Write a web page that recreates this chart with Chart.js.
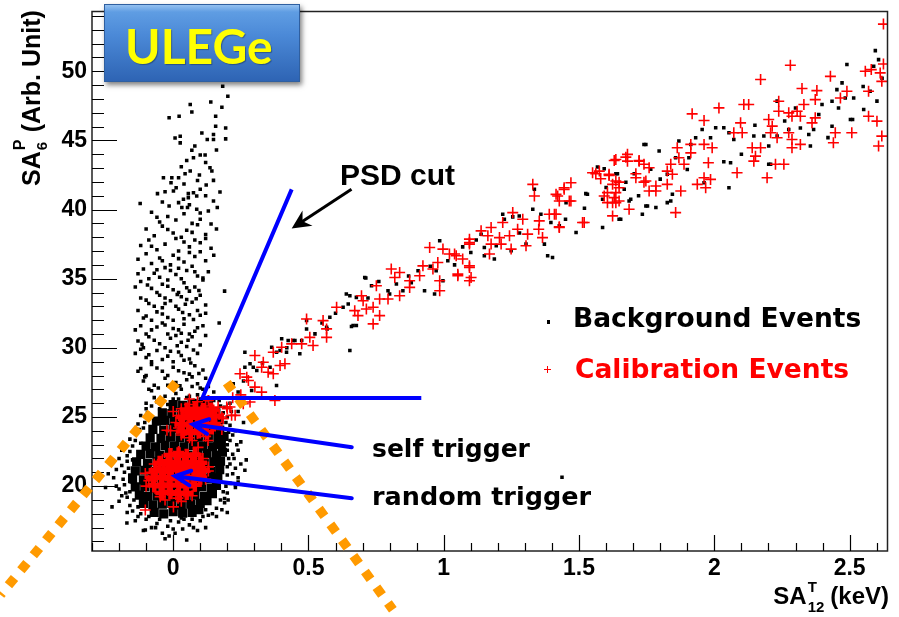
<!DOCTYPE html>
<html>
<head>
<meta charset="utf-8">
<title>ULEGe PSD scatter</title>
<script src="https://cdn.jsdelivr.net/npm/chart.js@4.4.1/dist/chart.umd.min.js"></script>
<style>
  body { margin: 0; background: #fff; }
  #wrap { position: relative; width: 899px; height: 617px; overflow: hidden; }
  #chart { position: absolute; left: 0; top: 0; }
  .txt { position: absolute; white-space: nowrap; line-height: 1; font-weight: bold; color: #000; }
  .arial { font-family: 'Liberation Sans', Arial, sans-serif; }
  .dejavu { font-family: 'DejaVu Sans', Verdana, sans-serif; }
  .ss { position: relative; display: inline-block; height: 0; }
  .ss span { position: absolute; left: 1px; line-height: 1; }
  #ulege {
    position: absolute; left: 104px; top: 4px; width: 196px; height: 78px; box-sizing: border-box;
    background: linear-gradient(to bottom, #93c0f0 0px, #5f9de3 7px, #4b89d7 40%, #2e64b4 100%);
    border: 1px solid #2f5fa0;
    box-shadow: 2px 3px 5px rgba(0,0,0,0.5);
  }
  #ulege span {
    position: absolute; left: 20px; top: 12px; line-height: 1;
    font: bold 48px 'Comic Sans MS', Lato, sans-serif; color: #ffff00;
    text-shadow: 1px 1px 1px rgba(0,0,0,0.3);
  }
  #yTitle { left: 18.8px; font-size: 25px; transform-origin: 0 0; transform: rotate(-90deg); }
  #xTitle { right: 10px; top: 584px; font-size: 24px; }
  .mk-sq { position: absolute; left: 546.5px; top: 320px; width: 3.5px; height: 3.5px; background: #000; }
  .mk-cross {
    position: absolute; left: 543.8px; top: 365.8px; width: 7px; height: 7px;
    background: linear-gradient(#f00, #f00) center / 7px 1.3px no-repeat,
                linear-gradient(#f00, #f00) center / 1.3px 7px no-repeat;
  }
</style>
</head>
<body>
<div id="wrap">
  <canvas id="chart" width="899" height="617"></canvas>
  <div id="ulege"><span>ULEGe</span></div>
  <div class="txt arial" style="left:340px; top:159.6px; font-size:30px;">PSD cut</div>
  <div class="txt dejavu" style="left:372px; top:435.8px; font-size:25px;">self trigger</div>
  <div class="txt dejavu" style="left:372px; top:484.4px; font-size:25.5px;">random trigger</div>
  <div class="mk-sq"></div>
  <div class="txt dejavu" style="left:573px; top:304.6px; font-size:26.5px;">Background Events</div>
  <div class="mk-cross"></div>
  <div class="txt dejavu" style="left:575px; top:355.6px; font-size:26.5px; color:#ff0000;">Calibration Events</div>
  <div class="txt arial" id="yTitle">SA<span class="ss" style="width:12px"><span style="top:-28.5px; font-size:16px;">P</span><span style="top:-5.7px; font-size:15px;">6</span></span> (Arb. Unit)</div>
  <div class="txt arial" id="xTitle">SA<span class="ss" style="width:17px"><span style="top:-25px; font-size:15px;">T</span><span style="top:-4.7px; font-size:15px;">12</span></span> (keV)</div>
</div>
<script>
// Axis ranges and tick labels
const xRange = [-0.3, 2.64];
const yRange = [15.31, 54.32];
const xTickLabels = ['0', '0.5', '1', '1.5', '2', '2.5'];
const yTickLabels = ['20', '25', '30', '35', '40', '45', '50'];

// Background events: saturated core of the trigger clusters
const bgCore = [
  [-0.07,18.1],[-0.035,18.0],[0.0,18.15],[0.035,18.05],[0.07,18.1],[0.095,18.3],
  [-0.11,18.75],[-0.075,18.65],[-0.04,18.7],[-0.005,18.75],[0.03,18.65],[0.065,18.7],[0.1,18.75],[0.125,18.95],
  [-0.125,19.35],[-0.095,19.25],[-0.06,19.3],[-0.025,19.35],[0.01,19.25],[0.045,19.3],[0.08,19.35],[0.115,19.25],[0.145,19.45],
  [-0.14,19.95],[-0.105,19.95],[-0.07,19.85],[-0.035,19.9],[0.0,19.95],[0.035,19.85],[0.07,19.9],[0.105,19.95],[0.14,19.85],[0.16,20.05],
  [-0.15,20.55],[-0.11,20.45],[-0.075,20.55],[-0.04,20.5],[-0.005,20.45],[0.03,20.55],[0.065,20.5],[0.1,20.45],[0.135,20.55],[0.165,20.6],
  [-0.14,21.1],[-0.105,21.15],[-0.07,21.05],[-0.035,21.1],[0.0,21.15],[0.035,21.05],[0.07,21.1],[0.105,21.15],[0.14,21.05],[0.172,21.2],
  [-0.135,21.75],[-0.095,21.65],[-0.06,21.75],[-0.025,21.7],[0.01,21.65],[0.045,21.75],[0.08,21.7],[0.115,21.65],[0.15,21.75],[0.175,21.8],
  [-0.12,22.3],[-0.085,22.35],[-0.05,22.25],[-0.015,22.3],[0.02,22.35],[0.055,22.25],[0.09,22.3],[0.125,22.35],[0.16,22.25],[0.182,22.45],
  [-0.1,22.9],[-0.065,22.85],[-0.03,22.95],[0.005,22.9],[0.04,22.85],[0.075,22.95],[0.11,22.9],[0.145,22.85],[0.178,23.0],
  [-0.085,23.5],[-0.045,23.45],[-0.01,23.55],[0.025,23.5],[0.06,23.45],[0.095,23.55],[0.13,23.5],[0.165,23.45],[0.188,23.6],
  [-0.075,24.1],[-0.035,24.05],[0.0,24.15],[0.035,24.1],[0.07,24.05],[0.105,24.15],[0.14,24.1],[0.172,24.05],
  [-0.062,24.7],[-0.03,24.75],[0.005,24.65],[0.04,24.7],[0.075,24.75],[0.11,24.65],[0.145,24.7],[0.17,24.8],
  [-0.04,25.3],[-0.005,25.25],[0.03,25.35],[0.065,25.3],[0.1,25.25],[0.135,25.35],[0.158,25.3],
  [0.0,25.9],[0.035,25.85],[0.07,25.95],[0.105,25.9],[0.13,25.8]
];

// Background events: scattered halo around the clusters
const bgHalo = [
  [-0.17,19.2],[-0.18,20.1],[-0.16,20.8],[-0.19,21.5],[-0.17,22.2],[-0.15,22.9],[-0.16,18.6],[-0.2,19.8],
  [-0.15,18.2],[-0.18,21.0],[-0.16,23.4],[-0.14,23.9],[-0.13,24.5],[-0.12,25.1],[-0.1,25.6],[-0.11,24.2],
  [-0.22,20.6],[-0.25,19.9],[-0.13,17.8],[-0.19,22.6],[-0.2,18.9],[-0.17,21.8],[-0.21,21.2],[-0.16,19.6],
  [-0.14,17.5],[-0.12,23.1],[-0.09,24.9],[-0.1,26.0],
  [-0.155,20.3],[-0.165,21.3],[-0.175,19.5],[-0.185,20.5],[-0.15,21.9],[-0.16,22.5],[-0.14,23.3],[-0.13,18.5],
  [-0.145,19.0],[-0.17,18.1],[-0.125,24.1],[-0.105,24.6],[-0.095,25.3],[-0.08,25.8],[-0.07,26.4],[-0.21,20.0],
  [-0.19,19.3],[-0.2,22.0],[-0.23,21.6],[-0.24,20.9],
  [0.19,18.8],[0.2,19.5],[0.21,20.2],[0.22,20.9],[0.21,21.6],[0.22,22.3],[0.2,23.0],[0.22,23.7],
  [0.21,24.4],[0.2,25.0],[0.19,25.7],[0.17,26.2],[0.23,21.3],[0.24,22.6],[0.25,23.2],[0.18,18.3],
  [0.16,17.8],[0.26,24.6],[0.24,25.4],[0.23,19.9],[0.27,21.9],[0.2,18.1],[0.23,24.0],[0.21,26.0],
  [0.19,19.1],[0.24,20.6],[0.265,21.15],[0.24,20.3],[0.203,19.0],
  [0.195,20.0],[0.2,20.8],[0.2,21.4],[0.205,22.0],[0.2,22.6],[0.21,23.3],[0.205,23.9],[0.195,24.6],
  [0.185,25.3],[0.175,25.8],[0.15,26.2],[0.185,19.6],[0.175,19.0],[0.16,18.4],[0.145,18.0],[0.225,22.0],
  [0.235,23.0],[0.215,25.4],[0.25,21.6],[0.23,20.1],
  [-0.1,17.6],[-0.06,17.3],[-0.02,17.1],[0.02,17.4],[0.06,17.2],[0.1,17.5],[0.13,17.9],[-0.04,16.6],
  [0.0,16.9],[0.09,16.8],[-0.08,17.0],[-0.03,16.2],[0.05,16.1],[0.12,17.0],[-0.11,16.8],[0.04,17.6],
  [-0.226,18.5],[-0.171,17.33],[-0.103,16.83],[0.007,16.6],
  [-0.09,17.8],[-0.05,17.6],[-0.01,17.5],[0.03,17.7],[0.07,17.6],[0.11,17.8],[-0.12,18.0],[0.12,18.3],
  [-0.065,17.0],[0.035,16.9],[0.075,17.0],[-0.015,16.4],
  [-0.06,26.1],[-0.03,26.5],[0.01,26.7],[0.05,26.4],[0.09,26.6],[0.13,26.4],[-0.08,26.9],[0.03,27.0],
  [0.07,27.2],[0.11,27.0],[0.15,26.8],[-0.02,27.3],[0.0,26.3],[0.08,26.2],[0.29,26.92],[0.382,27.28],
  [-0.045,26.0],[-0.02,25.9],[0.02,26.3],[0.06,26.5],[0.1,26.3],[0.14,26.0],[0.16,25.6],[-0.05,25.6]
];

// Background events: vertical plume above the clusters
const bgPlume = [
  [0.183,48.91],[0.202,48.19],[0.063,47.59],[0.139,47.78],[0.069,47.06],[0.157,46.75],[0.18,47.4],[0.022,46.75],
  [-0.015,46.63],[0.157,46.03],[0.194,45.9],[0.106,45.54],[0.149,45.43],[0.007,45.18],[0.026,45.3],[0.026,44.82],
  [0.126,45.07],[0.149,45.07],[0.194,45.11],[0.069,44.28],[0.1,43.94],[0.118,43.94],[0.05,43.55],[0.075,43.74],
  [0.136,43.02],[0.143,42.78],[0.063,42.78],[0.044,42.59],[0.097,42.49],[-0.036,42.3],[-0.005,42.3],[0.02,42.3],
  [-0.008,41.94],[0.011,41.58],[0.149,42.11],[0.122,41.77],[-0.058,41.15],[-0.03,41.29],[0.001,41.34],[0.056,41.15],
  [0.075,41.22],[0.1,41.46],[0.087,40.98],[0.173,41.27],[-0.122,40.43],[-0.015,40.26],[0.02,40.5],[0.038,40.74],
  [0.056,40.86],[0.149,40.62],[0.163,40.14],[0.032,40.14],[0.053,40.14],[0.087,40.02],
  [0.1,39.75],[0.06,40.35],[-0.04,40.55],[0.12,41.0],[0.04,41.85],[0.09,42.1],[0.03,43.1],[0.12,43.4],[0.08,44.6],[0.16,44.3],
  [-0.08,39.8],[-0.02,39.5],[0.04,39.7],[0.1,39.3],[0.13,39.9],[-0.05,39.1],[0.07,39.0],[-0.06,39.45],[0.01,39.25],
  [-0.1,38.6],[-0.04,38.8],[0.0,38.3],[0.05,38.5],[0.09,38.9],[0.12,38.2],[-0.07,38.1],[0.03,38.0],[0.16,38.6],
  [-0.02,38.55],[0.07,38.35],[0.14,38.95],
  [-0.09,37.8],[-0.03,37.5],[0.01,37.9],[0.06,37.3],[0.1,37.6],[-0.06,37.1],[0.02,37.0],[0.14,37.2],[-0.12,37.4],[0.08,37.8],
  [-0.08,37.35],[0.04,37.65],[0.12,37.9],
  [-0.1,36.8],[-0.05,36.5],[0.0,36.7],[0.04,36.2],[0.08,36.6],[0.12,36.3],[-0.08,36.1],[-0.01,36.0],[0.06,36.9],[0.15,36.7],[-0.13,36.4],
  [-0.04,36.3],[0.02,36.45],[0.1,36.95],
  [-0.11,35.7],[-0.07,35.4],[-0.03,35.8],[0.01,35.3],[0.05,35.6],[0.09,35.2],[0.13,35.5],[-0.09,35.0],[0.03,35.0],[-0.01,35.6],[0.07,35.9],[-0.05,35.1],
  [-0.13,35.35],[-0.06,35.65],[0.02,35.75],[0.08,35.5],[0.11,35.05],
  [-0.12,34.8],[-0.08,34.3],[-0.04,34.6],[0.0,34.2],[0.04,34.7],[0.08,34.4],[0.11,34.9],[-0.06,34.0],[0.02,34.0],[0.06,34.1],[-0.02,34.9],[0.19,34.1],[-0.14,34.4],
  [-0.095,34.55],[-0.02,34.45],[0.05,34.35],[0.095,34.15],
  [-0.12,33.6],[-0.09,33.2],[-0.05,33.8],[-0.01,33.4],[0.03,33.7],[0.07,33.3],[0.1,33.8],[-0.07,33.0],[0.01,33.0],[0.05,33.5],[0.12,33.1],[-0.03,33.2],
  [-0.1,33.45],[-0.03,33.6],[0.045,33.15],[0.085,33.55],[0.015,33.85],
  [-0.13,32.7],[-0.1,32.3],[-0.06,32.6],[-0.02,32.2],[0.02,32.8],[0.06,32.4],[0.09,32.7],[-0.08,32.0],[0.0,32.0],[0.04,32.1],[0.12,32.5],[-0.04,32.9],
  [-0.11,32.15],[-0.04,32.45],[0.035,32.55],[0.075,32.05],[0.1,32.35],
  [-0.12,31.6],[-0.08,31.3],[-0.04,31.8],[0.0,31.4],[0.04,31.7],[0.08,31.2],[0.11,31.6],[-0.1,31.0],[-0.02,31.0],[0.06,31.0],[0.17,31.8],[0.02,31.3],
  [-0.14,31.3],[-0.06,31.5],[0.03,31.05],[0.09,31.45],[-0.03,31.65],
  [-0.13,30.5],[-0.09,30.8],[-0.05,30.3],[-0.01,30.7],[0.03,30.4],[0.07,30.8],[0.1,30.2],[-0.11,30.0],[-0.03,30.0],[0.05,30.1],[0.01,30.9],
  [-0.115,30.25],[-0.07,30.55],[0.015,30.15],[0.055,30.55],[0.12,30.9],
  [-0.14,29.6],[-0.1,29.3],[-0.06,29.8],[-0.02,29.4],[0.02,29.7],[0.06,29.2],[0.09,29.6],[-0.08,29.0],[0.0,29.0],[0.04,29.1],[-0.12,29.9],
  [-0.09,29.5],[-0.04,29.15],[0.03,29.45],[0.075,29.85],[-0.01,29.75],
  [-0.12,28.5],[-0.08,28.8],[-0.04,28.3],[0.0,28.6],[0.04,28.2],[0.08,28.7],[0.11,28.4],[-0.1,28.0],[-0.02,28.0],[0.06,28.1],
  [-0.13,28.3],[-0.06,28.55],[0.02,28.35],[0.065,28.9],[0.095,28.15],
  [-0.11,27.6],[-0.07,27.3],[-0.03,27.8],[0.01,27.5],[0.05,27.7],[0.09,27.4],[0.12,27.8],[-0.09,27.0],[0.13,27.2],
  [-0.105,27.9],[-0.055,27.1],[0.025,27.25],[0.07,27.9],[0.1,27.1]
];

// Background events: diagonal band
const bgBand = [
  [0.21,27.04],[0.222,27.4],[0.24,26.8],[0.26,27.6],[0.265,29.68],[0.284,28.85],[0.309,28.36],[0.358,28.6],
  [0.265,28.6],[0.296,28.6],[0.364,30.04],[0.382,29.68],[0.419,29.68],[0.401,30.65],[0.425,30.53],[0.45,30.53],
  [0.475,30.53],[0.468,29.57],[0.395,29.8],[0.444,30.53],[0.493,31.37],[0.524,31.01],[0.569,31.37],[0.579,32.21],
  [0.493,31.97],[0.567,31.49],[0.628,32.93],[0.647,33.17],[0.653,33.77],[0.677,33.65],[0.64,33.9],[0.659,31.54],
  [0.677,31.61],[0.665,31.61],[0.653,29.8],[0.712,35.05],[0.708,35.09],[0.733,34.49],[0.76,34.8],[0.794,34.13],
  [0.825,34.61],[0.849,34.13],[0.87,35.2],[0.905,35.57],[0.929,34.13],[0.966,33.89],[0.997,34.85],[0.972,35.57],
  [0.985,37.74],[1.015,36.29],[1.04,36.0],[1.07,37.3],[1.1,36.9],
  [0.33,28.9],[0.42,30.0],[0.55,31.8],[0.6,32.5],[0.72,33.6],[0.8,33.9],[0.88,34.7],[0.95,35.9],
  [1.138,38.22],[1.15,37.26],[1.194,37.38],[1.15,36.66],[1.187,36.42],[1.249,37.02],[1.218,39.66],[1.224,39.3],
  [1.255,39.47],[1.279,39.54],[1.304,37.5],[1.329,40.02],[1.335,41.46],[1.359,39.66],[1.372,37.5],[1.384,36.66],
  [1.402,36.53],[1.396,39.06],[1.427,38.82],[1.452,40.5],[1.489,38.34],[1.525,41.15],[1.531,41.1],[1.437,20.65],
  [1.12,37.8],[1.28,38.3],[1.45,39.3],[1.52,40.1],
  [1.568,43.07],[1.593,42.95],[1.587,38.7],[1.587,40.74],[1.636,42.59],[1.642,42.59],[1.673,41.98],[1.667,41.46],
  [1.691,40.74],[1.648,39.3],[1.654,39.3],[1.685,40.62],[1.704,42.59],[1.734,39.66],[1.753,40.26],[1.747,40.26],
  [1.74,44.71],[1.747,44.71],[1.765,42.91],[1.784,40.14],[1.796,44.23],[1.826,40.5],[1.826,42.55],[1.839,40.62],
  [1.845,41.1],[1.857,43.74],[1.869,44.95],[1.906,43.74],[1.913,44.71],[1.931,45.19],[1.955,45.79],[1.962,41.94],
  [1.986,45.19],[2.005,45.91],[2.035,45.91],[2.035,43.45],[2.054,45.55],[2.054,41.58],[2.06,43.38],[2.072,45.07],
  [1.6,41.6],[1.72,41.0],[1.8,42.2],[1.9,42.9],[2.1,44.0],
  [2.146,45.31],[2.183,45.31],[2.201,44.59],[2.201,43.27],[2.208,43.27],[2.232,45.31],[2.232,47.84],[2.275,45.79],
  [2.3,47.35],[2.318,45.9],[2.349,45.43],[2.355,44.59],[2.367,45.79],[2.386,46.87],[2.398,47.59],[2.435,47.83],
  [2.435,46.03],[2.453,48.67],[2.459,47.35],[2.472,49.16],[2.484,48.07],[2.49,50.48],[2.503,46.51],[2.511,46.51],
  [2.515,48.07],[2.552,47.23],[2.576,48.55],[2.589,50.36],[2.595,51.49],[2.601,47.84],[2.607,50.84],
  [2.15,46.1],[2.26,46.4],[2.42,45.2],[2.55,48.9],[2.62,49.5]
];

// Calibration events: saturated centres of the two trigger clusters
const calDense = [
  [0.035,23.95],[0.065,23.85],[0.095,23.95],[0.125,23.9],
  [0.03,24.45],[0.06,24.5],[0.09,24.4],[0.12,24.5],[0.15,24.45],
  [0.035,25.0],[0.065,25.05],[0.095,24.95],[0.125,25.0],[0.155,25.05],
  [0.05,25.55],[0.08,25.6],[0.11,25.5],[0.14,25.55],
  [-0.04,19.5],[-0.01,19.55],[0.02,19.45],[0.05,19.5],
  [-0.07,20.05],[-0.04,20.0],[-0.01,20.1],[0.02,20.05],[0.05,20.0],[0.08,20.1],
  [-0.075,20.6],[-0.045,20.65],[-0.015,20.55],[0.015,20.6],[0.045,20.65],[0.075,20.55],[0.1,20.6],
  [-0.065,21.15],[-0.035,21.1],[-0.005,21.2],[0.025,21.15],[0.055,21.1],[0.085,21.2],[0.11,21.15],
  [-0.05,21.7],[-0.02,21.75],[0.01,21.65],[0.04,21.7],[0.07,21.75],[0.1,21.7],
  [-0.01,22.25],[0.02,22.3],[0.05,22.2],[0.08,22.25]
];

// Calibration events: edges of the trigger clusters
const calCore = [
  [0.03,25.6],[0.06,25.9],[0.09,26.1],[0.12,25.8],[0.15,25.5],[0.02,25.1],[0.05,25.3],[0.08,25.5],
  [0.11,25.3],[0.14,25.0],[0.17,25.2],[0.01,24.6],[0.04,24.8],[0.07,24.9],[0.10,24.7],[0.13,24.5],
  [0.16,24.6],[0.02,24.2],[0.05,24.3],[0.08,24.1],[0.11,24.0],[0.14,24.2],[0.03,23.7],[0.06,23.5],
  [0.09,23.8],[0.12,23.6],[0.07,23.3],[-0.01,24.0],[0.0,25.4],[0.18,24.1],
  [0.06,26.3],[0.13,26.2],[0.2,25.6],
  [-0.07,21.6],[-0.04,21.9],[-0.01,22.2],[0.02,22.5],[0.05,22.2],[0.08,22.4],[0.11,22.0],[-0.08,21.0],
  [-0.05,21.3],[-0.02,21.5],[0.01,21.8],[0.04,21.6],[0.07,21.7],[0.10,21.4],[0.13,21.1],[-0.09,20.4],
  [-0.06,20.7],[-0.03,20.9],[0.00,21.1],[0.03,20.8],[0.06,21.0],[0.09,20.7],[0.12,20.5],[-0.07,20.0],
  [-0.04,20.2],[-0.01,20.4],[0.02,20.1],[0.05,20.3],[0.08,20.0],[-0.05,19.5],[-0.02,19.7],[0.01,19.4],
  [0.04,19.6],[0.07,19.3],[-0.03,19.0],[0.03,18.9],[-0.1,20.0],
  [-0.103,18.27],[0.001,18.5],[0.018,19.13],[0.092,22.8],[-0.023,24.04],[0.129,23.3],[0.18,25.0],[0.216,25.12],
  [0.198,25.72],[0.166,25.72],[-0.103,20.92],[0.118,21.03],[0.13,21.39],[-0.048,19.23],[0.278,27.64],[0.302,27.16],
  [0.327,26.8],[0.376,26.2],[0.395,28.72],[0.351,28.24],[0.259,25.96],[0.284,26.08],[0.21,25.72],[0.229,25.12],
  [0.185,24.88],[0.22,26.4],[0.25,26.6]
];

// Calibration events: diagonal band
const calBand = [
  [0.247,28.13],[0.272,27.88],[0.302,29.45],[0.327,28.6],[0.333,28.96],[0.37,28.13],[0.413,28.85],[0.37,29.68],
  [0.401,30.04],[0.438,30.29],[0.475,30.29],[0.517,30.17],[0.505,30.76],[0.567,30.76],[0.567,31.37],[0.493,32.09],
  [0.554,31.97],[0.604,32.93],[0.739,31.73],[0.763,32.33],[0.714,32.81],[0.739,32.93],[0.683,32.33],[0.671,32.69],
  [0.702,33.41],[0.696,33.77],[0.763,33.53],[0.794,33.53],[0.751,34.49],[0.819,35.09],[0.837,35.45],[0.806,35.7],
  [0.837,33.77],[0.874,34.37],[0.874,34.85],[0.911,35.21],[0.985,34.13],[0.985,34.85],[1.095,37.61],[1.095,35.93],
  [1.095,34.85],[1.052,35.21],[0.923,35.93],[0.96,35.7],[0.978,36.17],[1.07,36.42],[1.046,36.66],[1.021,36.78],
  [0.997,37.14],[0.948,37.25],
  [1.04,36.78],[1.052,35.33],[1.101,35.09],[1.095,35.81],[1.169,36.78],[1.095,37.5],[1.095,37.86],[1.175,37.5],
  [1.212,37.5],[1.249,37.14],[1.304,37.38],[1.163,38.1],[1.243,38.1],[1.206,37.97],[1.31,38.22],[1.138,38.46],
  [1.175,38.7],[1.273,38.58],[1.218,39.06],[1.292,39.3],[1.255,39.78],[1.353,39.18],[1.351,38.58],[1.365,37.97],
  [1.427,38.7],[1.519,39.06],[1.39,39.66],[1.415,39.66],[1.421,40.98],[1.47,40.62],[1.329,41.82],[1.335,40.98],
  [1.445,41.46],[1.47,41.94],[1.415,41.1],[1.445,41.58],[1.464,40.62],[1.427,40.62],[1.409,39.66],[1.427,38.75],
  [1.513,39.06],
  [1.55,42.66],[1.575,42.78],[1.562,42.59],[1.58,42.23],[1.611,42.47],[1.611,42.55],[1.648,41.98],[1.624,41.82],
  [1.605,41.22],[1.636,41.22],[1.648,40.62],[1.624,40.5],[1.593,40.98],[1.605,40.5],[1.63,40.86],[1.636,40.5],
  [1.624,39.54],[1.685,40.02],[1.648,41.58],[1.636,42.06],[1.63,43.55],[1.636,43.62],[1.673,43.79],[1.679,43.99],
  [1.679,43.5],[1.722,43.5],[1.722,43.55],[1.74,43.27],[1.759,43.02],[1.71,42.3],[1.71,42.59],[1.747,42.06],
  [1.74,41.98],[1.784,41.7],[1.759,41.34],[1.784,41.34],[1.826,41.82],[1.857,39.78],[1.876,41.34],[1.826,42.78],
  [1.845,42.55],[1.839,43.27],[1.888,43.27],[1.869,43.74],[1.863,44.47],[1.913,44.1],[1.913,44.71],[1.962,44.71],
  [1.992,44.47],[1.937,41.82],[1.968,41.58],[1.986,42.18],[1.962,42.3],[1.978,43.38],[2.084,42.66],[2.195,42.3],
  [2.14,44.47],[2.171,44.47],[2.152,43.86],[2.146,43.5],[2.226,43.27],[2.257,43.27],[2.072,45.55],[2.103,45.55],
  [2.097,46.27],[1.962,46.44],[1.918,46.92],[2.017,47.35],[2.109,47.59],[2.127,47.59],[2.171,49.4],[2.281,50.43],
  [2.201,46.51],[2.214,46.03],[2.208,45.55],[2.232,45.19],[2.275,45.55],[2.287,45.07],[2.318,44.71],[2.287,44.47],
  [2.238,47.83],[2.238,47.11],[2.275,46.99],[2.306,47.11],[2.318,46.75],[2.287,46.75],[2.324,48.75],[2.379,48.6],
  [2.373,47.95],[2.331,47.59],[2.373,46.63],[2.361,46.27],[2.429,49.63],[2.466,48.07],[2.49,48.55],[2.447,45.55],
  [2.44,44.83],[2.508,45.55],[2.558,50.0],[2.58,50.12],[2.613,49.88],[2.619,49.27],[2.57,48.55],[2.57,46.75],
  [2.601,46.39],[2.619,45.31],[2.607,44.59],[2.625,50.52],[2.625,53.41]
];

// Annotations, in data units
const psdCutLine = [[0.438, 41.46], [0.108, 26.37], [0.917, 26.37]];
const psdArrow = [[0.659, 41.46], [0.438, 38.63]];
const triggerArrows = [
  [[0.66, 22.81], [0.073, 24.47]],
  [[0.66, 19.13], [0.007, 20.72]]
];
const orangeCuts = [
  [[0.011, 27.48], [-0.638, 12.14]],
  [[0.198, 27.48], [0.812, 11.06]]
];

const overlay = {
  id: 'overlay',
  afterDatasetsDraw(chart) {
    const { ctx, chartArea: a, scales: { x, y } } = chart;
    const P = p => [x.getPixelForValue(p[0]), y.getPixelForValue(p[1])];
    ctx.save();

    // frame
    ctx.strokeStyle = '#222';
    ctx.lineWidth = 1.5;
    ctx.strokeRect(a.left, a.top, a.right - a.left, a.bottom - a.top);

    // ticks pointing inward
    ctx.lineWidth = 1.2;
    ctx.strokeStyle = '#000';
    ctx.beginPath();
    for (let v = Math.ceil(yRange[0]); v <= yRange[1]; v++) {
      const py = Math.round(y.getPixelForValue(v)) + 0.5;
      ctx.moveTo(a.left, py);
      ctx.lineTo(a.left + (v % 5 === 0 ? 25 : 12), py);
    }
    for (let k = Math.ceil(xRange[0] * 10); k <= Math.floor(xRange[1] * 10); k++) {
      const px = Math.round(x.getPixelForValue(k / 10)) + 0.5;
      ctx.moveTo(px, a.bottom);
      ctx.lineTo(px, a.bottom - (k % 5 === 0 ? 16 : 8));
    }
    ctx.stroke();

    // orange dotted lines
    ctx.strokeStyle = '#ff9a00';
    ctx.lineWidth = 9.5;
    ctx.lineCap = 'butt';
    ctx.setLineDash([9.5, 10]);
    orangeCuts.forEach(seg => {
      const p0 = P(seg[0]), p1 = P(seg[1]);
      ctx.beginPath();
      ctx.moveTo(p0[0], p0[1]);
      ctx.lineTo(p1[0], p1[1]);
      ctx.stroke();
    });
    ctx.setLineDash([]);

    // blue PSD cut
    ctx.strokeStyle = '#0000ff';
    ctx.lineWidth = 4;
    ctx.lineJoin = 'miter';
    ctx.beginPath();
    psdCutLine.forEach((p, i) => {
      const q = P(p);
      if (i === 0) ctx.moveTo(q[0], q[1]); else ctx.lineTo(q[0], q[1]);
    });
    ctx.stroke();

    // blue trigger arrows
    ctx.lineCap = 'round';
    triggerArrows.forEach(seg => {
      const p0 = P(seg[0]), p1 = P(seg[1]);
      const ang = Math.atan2(p1[1] - p0[1], p1[0] - p0[0]);
      ctx.beginPath();
      ctx.moveTo(p0[0], p0[1]);
      ctx.lineTo(p1[0], p1[1]);
      ctx.moveTo(p1[0] - 17 * Math.cos(ang - 0.45), p1[1] - 17 * Math.sin(ang - 0.45));
      ctx.lineTo(p1[0], p1[1]);
      ctx.lineTo(p1[0] - 17 * Math.cos(ang + 0.45), p1[1] - 17 * Math.sin(ang + 0.45));
      ctx.stroke();
    });

    // black PSD arrow
    const f = P(psdArrow[0]), t = P(psdArrow[1]);
    const ang = Math.atan2(t[1] - f[1], t[0] - f[0]);
    ctx.strokeStyle = '#000';
    ctx.fillStyle = '#000';
    ctx.lineWidth = 3;
    ctx.lineCap = 'butt';
    ctx.beginPath();
    ctx.moveTo(f[0], f[1]);
    ctx.lineTo(t[0] - 10 * Math.cos(ang), t[1] - 10 * Math.sin(ang));
    ctx.stroke();
    ctx.beginPath();
    ctx.moveTo(t[0], t[1]);
    ctx.lineTo(t[0] - 21 * Math.cos(ang - 0.45), t[1] - 21 * Math.sin(ang - 0.45));
    ctx.lineTo(t[0] - 13 * Math.cos(ang), t[1] - 13 * Math.sin(ang));
    ctx.lineTo(t[0] - 21 * Math.cos(ang + 0.45), t[1] - 21 * Math.sin(ang + 0.45));
    ctx.closePath();
    ctx.fill();

    ctx.restore();
  }
};

const tickFont = { family: "'Liberation Sans', Arial, sans-serif", size: 23, weight: 'bold' };

new Chart(document.getElementById('chart'), {
  type: 'scatter',
  data: {
    datasets: [
      {
        label: 'Calibration Events',
        data: calCore.concat(calBand),
        pointStyle: 'cross',
        pointRadius: 5.5,
        pointBorderWidth: 1.6,
        pointBorderColor: '#ff0000',
        pointBackgroundColor: '#ff0000'
      },
      {
        label: 'Calibration Events (dense)',
        data: calDense,
        pointStyle: 'cross',
        pointRadius: 7,
        pointBorderWidth: 4.5,
        pointBorderColor: '#ff0000',
        pointBackgroundColor: '#ff0000'
      },
      {
        label: 'Background Events',
        data: bgHalo.concat(bgPlume, bgBand),
        pointStyle: 'rect',
        pointRadius: 2.5,
        pointBorderWidth: 0,
        pointBackgroundColor: '#000'
      },
      {
        label: 'Background Events (dense)',
        data: bgCore,
        pointStyle: 'rect',
        pointRadius: 6.5,
        pointBorderWidth: 0,
        pointBackgroundColor: '#000'
      }
    ]
  },
  options: {
    responsive: false,
    animation: false,
    events: [],
    layout: { padding: { top: 10, right: 10, left: 0, bottom: 0 } },
    plugins: { legend: { display: false }, tooltip: { enabled: false } },
    scales: {
      x: {
        type: 'linear',
        min: xRange[0],
        max: xRange[1],
        grid: { display: false, drawTicks: false },
        border: { display: false },
        ticks: {
          stepSize: 0.5,
          includeBounds: false,
          autoSkip: false,
          maxRotation: 0,
          padding: 4,
          color: '#000',
          font: tickFont,
          callback: v => xTickLabels.find(s => Math.abs(parseFloat(s) - v) < 1e-6) || ''
        },
        afterFit(s) { s.height = 66; s.paddingLeft = 0; s.paddingRight = 0; }
      },
      y: {
        type: 'linear',
        min: yRange[0],
        max: yRange[1],
        grid: { display: false, drawTicks: false },
        border: { display: false },
        ticks: {
          stepSize: 5,
          includeBounds: false,
          autoSkip: false,
          padding: 5,
          color: '#000',
          font: tickFont,
          callback: v => yTickLabels.find(s => Math.abs(parseFloat(s) - v) < 1e-6) || ''
        },
        afterFit(s) { s.width = 92; s.paddingTop = 0; s.paddingBottom = 0; }
      }
    }
  },
  plugins: [overlay]
});

// rotated y title ends at the top of the frame
const yt = document.getElementById('yTitle');
yt.style.top = (10 + yt.offsetWidth) + 'px';
</script>
</body>
</html>
